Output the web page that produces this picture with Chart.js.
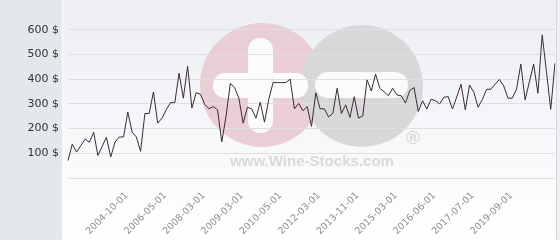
<!DOCTYPE html>
<html>
<head>
<meta charset="utf-8">
<script src="https://cdn.jsdelivr.net/npm/chart.js@4"></script>
<style>
  html, body { margin: 0; padding: 0; background: #fff; }
  #wrap { width: 560px; height: 240px; }
</style>
</head>
<body>
<div id="wrap"><canvas id="price" width="560" height="240"></canvas></div>
<script>
// price per bottle, one value per quote
const prices = [
  70, 137, 105, 131, 157, 145, 185, 91, 128, 165,
  85, 145, 166, 166, 267, 186, 166, 108, 261, 261,
  348, 222, 242, 276, 305, 305, 424, 323, 452, 283,
  345, 339, 298, 280, 289, 276, 146, 250, 383, 366,
  323, 222, 286, 280, 242, 307, 226, 318, 386, 386,
  386, 386, 400, 280, 302, 272, 289, 209, 345, 280,
  280, 247, 262, 363, 261, 296, 245, 329, 242, 251,
  397, 352, 420, 363, 349, 333, 363, 336, 333, 303,
  354, 366, 269, 313, 279, 319, 313, 300, 327, 329,
  279, 328, 379, 276, 376, 347, 286, 318, 359, 359,
  380, 399, 372, 323, 323, 360, 461, 316, 389, 461,
  343, 579, 430, 278, 464
];

// dates shown under the axis and the quote index they sit on
const dateLabels = ['2004-10-01', '2006-05-01', '2008-03-01', '2009-03-01', '2010-05-01',
  '2012-03-01', '2013-11-01', '2015-03-01', '2016-06-01', '2017-07-01', '2019-09-01'];
const dateIndex = [14, 23, 32, 41, 50, 59, 68, 77, 86, 95, 104];

const yTicks = [100, 200, 300, 400, 500, 600];

const labels = prices.map(() => '');
dateIndex.forEach((idx, k) => { labels[idx] = dateLabels[k]; });

// page background + watermark, drawn under the grid
const backdrop = {
  id: 'backdrop',
  beforeDraw(chart) {
    const { ctx, width, height } = chart;
    ctx.save();
    const g = ctx.createLinearGradient(0, 0, 0, height);
    g.addColorStop(0, '#eceef3');
    g.addColorStop(1, '#ffffff');
    ctx.fillStyle = g;
    ctx.fillRect(0, 0, width, height);
    ctx.fillStyle = '#e5e8eb';
    ctx.fillRect(0, 0, 62, height);
    ctx.fillStyle = '#fbfbfc';
    ctx.fillRect(62, 0, 1, height);
    ctx.fillStyle = '#d4d7db';
    ctx.fillRect(556, 0, 1, height);
    ctx.fillStyle = '#eef0f3';
    ctx.fillRect(557, 0, 3, height);

    // logo
    ctx.fillStyle = '#e9ced5';
    ctx.beginPath(); ctx.arc(262, 85, 62, 0, Math.PI * 2); ctx.fill();
    ctx.fillStyle = '#d8d8da';
    ctx.beginPath(); ctx.arc(362, 86, 61, 0, Math.PI * 2); ctx.fill();
    ctx.fillStyle = '#fbfbfc';
    ctx.beginPath(); ctx.roundRect(248, 38, 25, 95, 12); ctx.fill();
    ctx.beginPath(); ctx.roundRect(213, 73, 95, 25, 12); ctx.fill();
    ctx.beginPath(); ctx.roundRect(315, 72, 93, 26, 13); ctx.fill();

    ctx.fillStyle = '#d9d9d9';
    ctx.font = 'bold 15px "Liberation Sans"';
    const txt = 'www.Wine-Stocks.com';
    const w = ctx.measureText(txt).width;
    ctx.save();
    ctx.translate(230, 166);
    ctx.scale(164 / w, 1);
    ctx.fillText(txt, 0, 0);
    ctx.restore();
    ctx.font = '18px "DejaVu Sans"';
    ctx.textAlign = 'center';
    ctx.textBaseline = 'middle';
    ctx.fillStyle = '#d2d2d4';
    ctx.fillText('\u00AE', 413, 139);
    ctx.restore();
  }
};

new Chart(document.getElementById('price'), {
  type: 'line',
  data: {
    labels: labels,
    datasets: [{
      data: prices,
      borderColor: '#3b2a35',
      borderWidth: 1,
      pointRadius: 0,
      tension: 0,
      fill: false
    }]
  },
  options: {
    responsive: false,
    animation: false,
    layout: { padding: { top: 5, right: 5, left: 0, bottom: 0 } },
    plugins: {
      legend: { display: false },
      tooltip: { enabled: false }
    },
    scales: {
      x: {
        grid: { display: false },
        border: { display: false },
        afterFit: (s) => { s.height = 62; s.paddingLeft = 0; s.paddingRight = 0; },
        ticks: {
          autoSkip: false,
          maxRotation: 45,
          minRotation: 45,
          padding: 4,
          labelOffset: -1,
          color: '#8e8e8e',
          font: { family: 'DejaVu Sans', size: 9.5 },
          callback: (v, i) => labels[i]
        }
      },
      y: {
        min: 0,
        max: 700,
        border: { display: false },
        afterFit: (s) => { s.width = 68; s.paddingTop = 0; s.paddingBottom = 0; },
        afterBuildTicks: (s) => { s.ticks = [0, ...yTicks, 700].map(v => ({ value: v })); },
        grid: {
          drawTicks: false,
          color: (c) => c.tick && c.tick.value === 700 ? 'rgba(0,0,0,0)' : '#dfdfe2'
        },
        ticks: {
          padding: 9,
          color: '#333333',
          font: { family: 'DejaVu Sans', size: 11 },
          callback: (v) => yTicks.includes(v) ? v + ' $' : ''
        }
      }
    }
  },
  plugins: [backdrop]
});
</script>
</body>
</html>
